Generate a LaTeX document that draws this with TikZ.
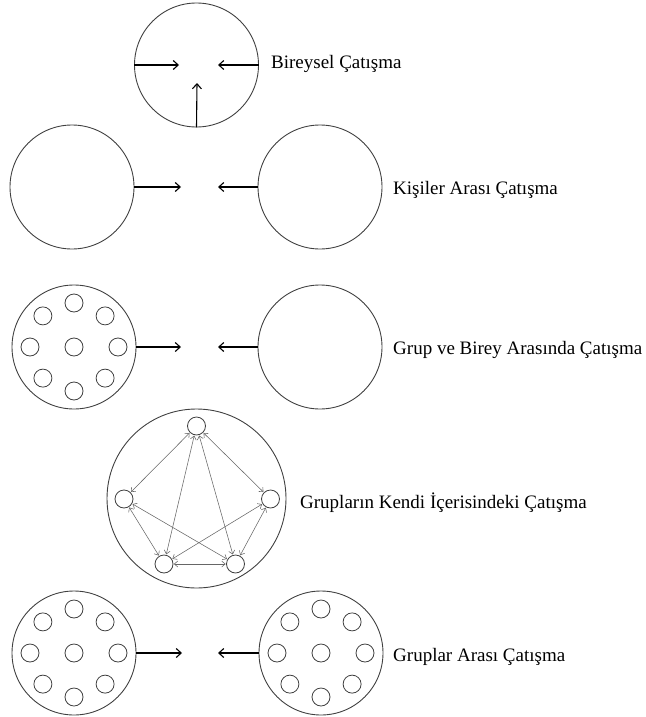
\documentclass[tikz,border=0pt]{standalone}
\usepackage{fontspec}
\setmainfont{Liberation Serif}
\usetikzlibrary{arrows.meta,calc}
\begin{document}
\begin{tikzpicture}[x=1pt,y=-1pt,
  big/.style={circle,draw=black!75,line width=0.9pt,minimum size=124pt,inner sep=0pt},
  sm/.style={circle,draw=black!75,line width=0.8pt,minimum size=18pt,inner sep=0pt},
  arr/.style={draw=black,line width=1.1pt,-{Straight Barb[length=5pt,width=9pt]}},
  garr/.style={draw=black!60,line width=0.55pt,{Straight Barb[length=3.5pt,width=6pt]}-{Straight Barb[length=3.5pt,width=6pt]},shorten <=0.5pt,shorten >=0.5pt},
  lbl/.style={anchor=base west,font=\fontsize{19}{22}\selectfont,inner sep=0pt}]
\useasboundingbox (0,0) rectangle (645,717);
% Row 1
\node[big] (c1) at (196.5,65) {};
\coordinate (a1) at (179,65);
\coordinate (a2) at (218,65);
\coordinate (a3) at (197,83);
\draw[arr] (c1.west) -- (a1);
\draw[arr] (c1.east) -- (a2);
\draw[arr] (c1.south) -- (a3);
\node[lbl] (t1) at (271,69) {Bireysel Çatışma};
% Row 2
\node[big] (c2l) at (72,187) {};
\node[big] (c2r) at (320,187) {};
\coordinate (b1) at (181,187);
\coordinate (b2) at (218,187);
\draw[arr] (c2l.east) -- (b1);
\draw[arr] (c2r.west) -- (b2);
\node[lbl] (t2) at (393,194.3) {Kişiler Arası Çatışma};
% Row 3
\node[big] (c3l) at (74,347) {};
\node[big] (c3r) at (320,347) {};
\foreach \a [count=\i] in {0,45,...,315}
  \node[sm] (g3\i) at ($(74,347)+(\a:44)$) {};
\node[sm] (g3c) at (74,347) {};
\coordinate (d1) at (181,347);
\coordinate (d2) at (218,347);
\draw[arr] (c3l.east) -- (d1);
\draw[arr] (c3r.west) -- (d2);
\node[lbl] (t3) at (393,354.3) {Grup ve Birey Arasında Çatışma};
% Row 4
\node[big,minimum size=179pt] (c4) at (196.5,498.5) {};
\node[sm] (pt) at (196.5,426) {};
\node[sm] (pl) at (124,499) {};
\node[sm] (pr) at (270.5,499) {};
\node[sm] (pbl) at (164,564) {};
\node[sm] (pbr) at (235.5,564) {};
\foreach \u/\v in {pt/pl,pt/pr,pt/pbl,pt/pbr,pl/pbl,pl/pbr,pr/pbl,pr/pbr,pbl/pbr}
  \draw[garr] (\u) -- (\v);
\node[lbl] (t4) at (300,508.3) {Grupların Kendi İçerisindeki Çatışma};
% Row 5
\node[big] (c5l) at (74,653) {};
\node[big] (c5r) at (321,653) {};
\foreach \a [count=\i] in {0,45,...,315}{
  \node[sm] (g5l\i) at ($(74,653)+(\a:44)$) {};
  \node[sm] (g5r\i) at ($(321,653)+(\a:44)$) {};}
\node[sm] (g5lc) at (74,653) {};
\node[sm] (g5rc) at (321,653) {};
\coordinate (e1) at (182,653);
\coordinate (e2) at (218,653);
\draw[arr] (c5l.east) -- (e1);
\draw[arr] (c5r.west) -- (e2);
\node[lbl] (t5) at (393,661) {Gruplar Arası Çatışma};
\end{tikzpicture}
\end{document}
